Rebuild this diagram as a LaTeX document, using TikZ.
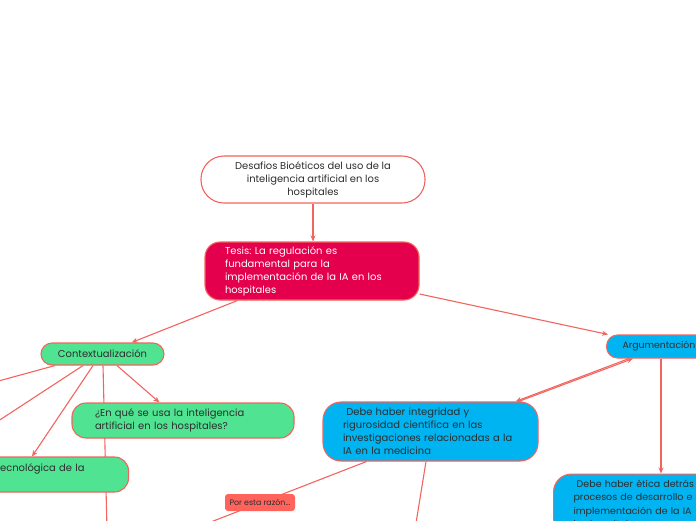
\documentclass[tikz,border=0pt]{standalone}
\usepackage{fontspec}
\setmainfont{Poppins}
\frenchspacing
\usetikzlibrary{backgrounds,calc,arrows.meta}
\definecolor{edge}{RGB}{242,100,94}
\definecolor{tesisfill}{RGB}{228,0,76}
\definecolor{greenfill}{RGB}{80,227,145}
\definecolor{cyanfill}{RGB}{0,180,242}
\definecolor{tagfill}{RGB}{255,99,92}
\definecolor{ink}{RGB}{45,45,45}
\tikzset{
  box/.style={draw=edge, line width=1.1pt, text=ink, font=\fontsize{9.95}{13}\selectfont, inner ysep=0pt},
  conn/.style={draw=edge, line width=1.1pt},
  arr/.style={conn, -{Stealth[length=6pt,width=5pt]}},
}
\begin{document}
\begin{tikzpicture}[x=1pt,y=-1pt]
\useasboundingbox (0,0) rectangle (696,520);
% nodes
\node[box, fill=white, rounded corners=23pt, minimum width=224pt, minimum height=47pt, align=center] (root) at (313,179.5)
  {Desafios Bioéticos del uso de la\\inteligencia artificial en los\\hospitales};
\node[box, fill=tesisfill, text=white, rounded corners=15pt, minimum height=58pt, inner xsep=20pt, text width=174pt, align=left] (tesis) at (312,271)
  {Tesis: La regulación es\\fundamental para la\\implementación de la IA en los\\hospitales};
\node[box, fill=greenfill, rounded corners=11pt, minimum width=123pt, minimum height=22pt] (ctx) at (102.5,354) {Contextualización};
\node[box, fill=greenfill, rounded corners=14pt, minimum height=35pt, inner xsep=23pt, text width=176pt, align=left] (enque) at (183,420.5)
  {¿En qué se usa la inteligencia\\artificial en los hospitales?};
\node[box, fill=greenfill, rounded corners=14pt, minimum height=35pt, inner xsep=22pt, text width=110pt, align=left, anchor=west] (tec) at (-26,474.5)
  {tecnológica de la\\\mbox{}};
\node[box, fill=cyanfill, rounded corners=11pt, minimum height=23pt, inner xsep=16pt, text width=88pt, align=left, anchor=west, font=\fontsize{9.3}{13}\selectfont] (arg) at (606,346.5)
  {Argumentación};
\node[box, fill=cyanfill, rounded corners=18pt, minimum height=59pt, inner xsep=20pt, text width=175pt, align=left] (integ) at (430.5,431.5)
  {\ Debe haber integridad y\\rigurosidad científica en las\\investigaciones relacionadas a la\\IA en la medicina};
\node[box, fill=cyanfill, rounded corners=18pt, minimum height=62pt, inner xsep=20pt, text width=162pt, align=left, anchor=north west, font=\fontsize{9.5}{13.5}\selectfont] (etica) at (553,473.5)
  {\ Debe haber ética detrás\\procesos de desarrollo e\\implementación de la IA\\los hospitales};
\node[draw=none, fill=tagfill, rounded corners=3pt, minimum width=70pt, minimum height=17pt, inner sep=0pt, text=ink, font=\fontsize{7.9}{9}\selectfont] (tag) at (260,502.5) {Por esta razón...};
% off-page ends
\coordinate (o1) at (-60,397);
\coordinate (o2) at (-60,459);
\coordinate (o3) at (108,570);
\coordinate (o4) at (100,565);
\coordinate (o5) at (410,560);
\begin{scope}[on background layer]
\draw[arr] (root.south) -- (tesis.north -| root.south);
\draw[arr] (tesis) -- (ctx);
\draw[arr] ($(tesis.east)+(0,23)$) -- ($(arg.north west)+(2,0)$);
\draw[conn] ($(ctx.south)+(-47.5,0)$) -- (o1);
\draw[conn] ($(ctx.south)+(-19.5,0)$) -- (o2);
\draw[arr] ($(ctx.south)+(-9.5,0)$) -- ($(tec.north west)+(58,0)$);
\draw[conn] ($(ctx.south)+(0.5,0)$) -- (o3);
\draw[arr] ($(ctx.south)+(14.5,0)$) -- ($(enque.north west)+(88,0)$);
\draw[arr] ($(arg.south west)+(23,0)$) -- ($(integ.north east)+(-23,0)$);
\draw[arr] ($(integ.north east)+(-20,0)$) -- ($(arg.south west)+(27,0)$);
\draw[arr] ($(arg.south west)+(55,0)$) -- (etica.north -| {$(arg.south west)+(55,0)$});
\draw[conn] ($(integ.south west)+(44,0)$) -- (o4);
\draw[conn] ($(integ.south)+(-4.5,0)$) -- (o5);
\end{scope}
\end{tikzpicture}
\end{document}
